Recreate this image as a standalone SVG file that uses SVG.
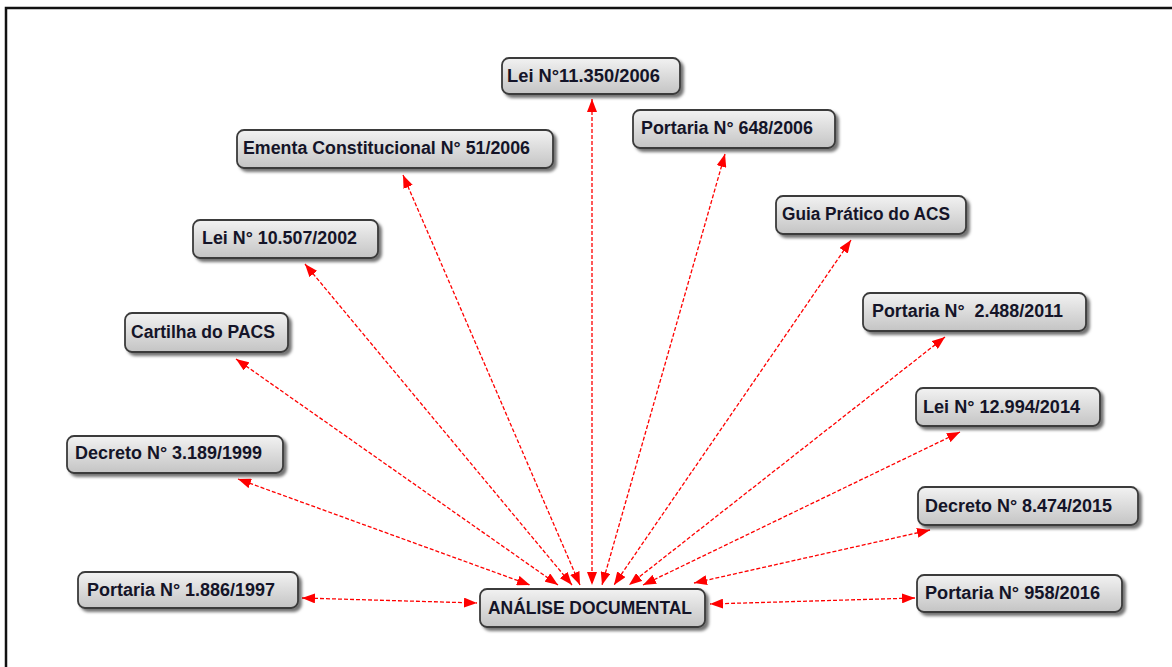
<svg xmlns="http://www.w3.org/2000/svg" width="1172" height="667" viewBox="0 0 1172 667">
<defs>
<linearGradient id="g" x1="0" y1="0" x2="0" y2="1">
<stop offset="0" stop-color="#f2f2f2"/>
<stop offset="1" stop-color="#c4c4c4"/>
</linearGradient>
<filter id="sh" x="-10%" y="-20%" width="130%" height="160%">
<feDropShadow dx="3" dy="3" stdDeviation="1.6" flood-color="#000" flood-opacity="0.55"/>
</filter>
<marker id="ah" viewBox="0 0 13 10" refX="13" refY="5" markerWidth="13" markerHeight="10" markerUnits="userSpaceOnUse" orient="auto-start-reverse">
<path d="M0,0 L13,5 L0,10 z" fill="#ff0000"/>
</marker>
<style>
.box{fill:url(#g);stroke:#3a3a3a;stroke-width:1.8;filter:url(#sh)}
.t{font-family:"Liberation Sans",Arial,sans-serif;font-weight:bold;font-size:18px;fill:#141428;white-space:pre}
.c{fill:none;stroke:#ff0000;stroke-width:1.3;stroke-dasharray:4 2;marker-start:url(#ah);marker-end:url(#ah)}
</style>
</defs>
<rect x="6" y="8" width="1200" height="700" fill="#fff" stroke="#111" stroke-width="2.5"/>
<g id="connectors">
<line class="c" x1="592" y1="99" x2="592" y2="585"/>
<line class="c" x1="725" y1="154" x2="602" y2="585"/>
<line class="c" x1="403" y1="175" x2="580" y2="585"/>
<line class="c" x1="851" y1="240" x2="614" y2="585"/>
<line class="c" x1="305" y1="264" x2="572" y2="585"/>
<line class="c" x1="945" y1="337" x2="629" y2="585"/>
<line class="c" x1="236" y1="359" x2="558" y2="585"/>
<line class="c" x1="960" y1="432" x2="643" y2="585"/>
<line class="c" x1="238" y1="479" x2="530" y2="585"/>
<line class="c" x1="930" y1="530" x2="694" y2="583"/>
<line class="c" x1="302" y1="598" x2="477" y2="603"/>
<line class="c" x1="915" y1="598" x2="710" y2="604"/>
</g>
<g id="n-analise"><rect class="box" x="480" y="589" width="225" height="38" rx="7"/><text class="t" x="488" y="614" textLength="204" lengthAdjust="spacingAndGlyphs">ANÁLISE DOCUMENTAL</text></g>
<g id="n-lei11350"><rect class="box" x="502" y="58" width="178" height="36" rx="7"/><text class="t" x="507" y="82" textLength="153" lengthAdjust="spacingAndGlyphs">Lei N°11.350/2006</text></g>
<g id="n-port648"><rect class="box" x="633" y="110" width="202" height="38" rx="7"/><text class="t" x="641" y="134" textLength="172" lengthAdjust="spacingAndGlyphs">Portaria N° 648/2006</text></g>
<g id="n-ementa"><rect class="box" x="237" y="130" width="316" height="38" rx="7"/><text class="t" x="243" y="154" textLength="287" lengthAdjust="spacingAndGlyphs">Ementa Constitucional N° 51/2006</text></g>
<g id="n-guia"><rect class="box" x="776" y="196" width="190" height="38" rx="7"/><text class="t" x="782" y="220" textLength="168" lengthAdjust="spacingAndGlyphs">Guia Prático do ACS</text></g>
<g id="n-lei10507"><rect class="box" x="193" y="220" width="185" height="38" rx="7"/><text class="t" x="202" y="244" textLength="155" lengthAdjust="spacingAndGlyphs">Lei N° 10.507/2002</text></g>
<g id="n-port2488"><rect class="box" x="863" y="293" width="223" height="38" rx="7"/><text class="t" x="872" y="317" textLength="191" lengthAdjust="spacingAndGlyphs">Portaria N°  2.488/2011</text></g>
<g id="n-cartilha"><rect class="box" x="125" y="313" width="163" height="39" rx="7"/><text class="t" x="131" y="338" textLength="144" lengthAdjust="spacingAndGlyphs">Cartilha do PACS</text></g>
<g id="n-lei12994"><rect class="box" x="916" y="388" width="184" height="38" rx="7"/><text class="t" x="923" y="413" textLength="157" lengthAdjust="spacingAndGlyphs">Lei N° 12.994/2014</text></g>
<g id="n-dec3189"><rect class="box" x="67" y="436" width="216" height="37" rx="7"/><text class="t" x="75" y="459" textLength="187" lengthAdjust="spacingAndGlyphs">Decreto N° 3.189/1999</text></g>
<g id="n-dec8474"><rect class="box" x="918" y="487" width="220" height="38" rx="7"/><text class="t" x="925" y="512" textLength="187" lengthAdjust="spacingAndGlyphs">Decreto N° 8.474/2015</text></g>
<g id="n-port1886"><rect class="box" x="78" y="572" width="220" height="36" rx="7"/><text class="t" x="87" y="596" textLength="188" lengthAdjust="spacingAndGlyphs">Portaria N° 1.886/1997</text></g>
<g id="n-port958"><rect class="box" x="917" y="575" width="205" height="37" rx="7"/><text class="t" x="925" y="599" textLength="175" lengthAdjust="spacingAndGlyphs">Portaria N° 958/2016</text></g>
</svg>
